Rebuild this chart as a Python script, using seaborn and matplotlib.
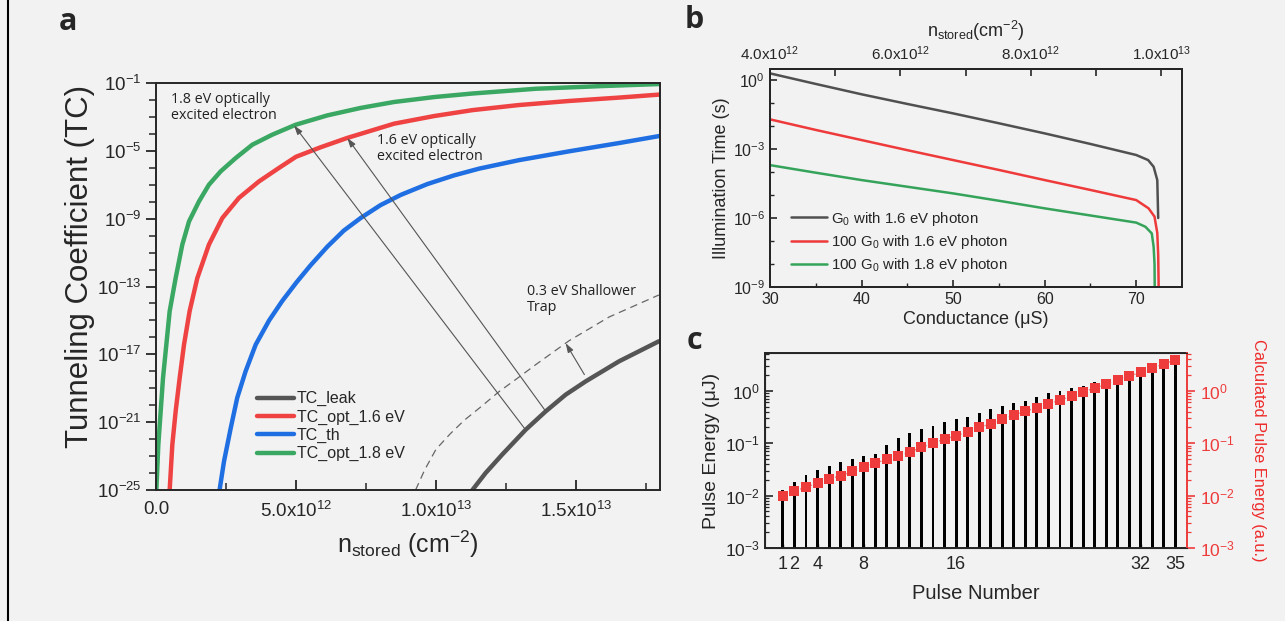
import numpy as np
import matplotlib
matplotlib.use('Agg')
import matplotlib.pyplot as plt
from matplotlib.lines import Line2D
import seaborn as sns

sns.set_style('ticks')
plt.rcParams['font.family'] = ['Liberation Sans', 'DejaVu Sans']
plt.rcParams['mathtext.fontset'] = 'custom'
plt.rcParams['mathtext.rm'] = 'Liberation Sans'
plt.rcParams['mathtext.default'] = 'regular'

BG = '#f2f2f2'
GRAY = '#555555'
RED = '#ef4343'
BLUE = '#1f6fe3'
GREEN = '#3aa862'

# ---- panel a: tunneling coefficient vs n_stored (log10 TC) ----
n_green = [0.012e12, 0.083e12, 0.167e12, 0.25e12, 0.369e12, 0.488e12, 0.702e12, 0.94e12,
           1.18e12, 1.536e12, 1.89e12, 2.31e12, 2.85e12, 3.44e12, 4.15e12, 4.99e12,
           6.12e12, 7.31e12, 8.5e12, 9.93e12, 11.3e12, 13.56e12, 15.94e12, 18.0e12]
tc_green = [-25, -22.33, -20.36, -18.40, -16.43, -14.46, -12.50, -10.53,
            -9.16, -7.98, -7.0, -6.21, -5.42, -4.64, -4.05, -3.46,
            -2.91, -2.47, -2.12, -1.83, -1.62, -1.34, -1.18, -1.06]

n_red = [0.488e12, 0.583e12, 0.702e12, 0.845e12, 1.0e12, 1.2e12, 1.476e12, 1.89e12,
         2.37e12, 2.96e12, 3.68e12, 4.39e12, 5.0e12, 5.88e12, 6.83e12, 8.5e12,
         9.93e12, 11.3e12, 12.96e12, 14.75e12, 16.54e12, 18.0e12]
tc_red = [-25, -22.33, -20.36, -18.40, -16.43, -14.46, -12.50, -10.53,
          -8.96, -7.78, -6.80, -6.01, -5.35, -4.79, -4.24, -3.4,
          -2.95, -2.6, -2.3, -2.06, -1.86, -1.68]

n_blue = [2.27e12, 2.43e12, 2.67e12, 2.90e12, 3.20e12, 3.56e12, 4.04e12, 4.51e12,
          5.02e12, 5.52e12, 6.12e12, 6.71e12, 7.31e12, 8.02e12, 8.74e12, 9.69e12,
          10.64e12, 11.54e12, 12.96e12, 14.75e12, 16.54e12, 18.0e12]
tc_blue = [-25, -23.3, -21.34, -19.57, -18.0, -16.43, -15.0, -13.85,
           -12.75, -11.75, -10.65, -9.7, -8.96, -8.2, -7.6, -6.96,
           -6.45, -6.05, -5.55, -5.03, -4.54, -4.12]

n_leak = [11.3e12, 11.77e12, 12.37e12, 13.2e12, 13.92e12, 14.63e12, 15.35e12, 16.54e12, 17.96e12]
tc_leak = [-25, -24.0, -22.9, -21.45, -20.36, -19.38, -18.59, -17.41, -16.23]

n_shallow = [9.27e12, 9.6e12, 10.0e12, 10.5e12, 11.0e12, 11.6e12, 12.25e12, 13.0e12,
             13.56e12, 14.75e12, 16.18e12, 17.96e12]
tc_shallow = [-25, -23.8, -22.6, -21.7, -20.9, -20.1, -19.2, -18.3,
              -17.61, -16.2, -14.8, -13.5]

a_xticks = [0, 5e12, 1e13, 1.5e13]
a_xticklabels = ['0.0', r'5.0x10$^{12}$', r'1.0x10$^{13}$', r'1.5x10$^{13}$']
a_yexp = [-1, -5, -9, -13, -17, -21, -25]

# ---- panel b: illumination time vs conductance (log10 s) ----
g_gray = [30, 35, 40, 45, 50, 55, 60, 65, 70, 71.3, 71.9, 72.3, 72.4]
t_gray = [0.29, -0.17, -0.62, -1.04, -1.45, -1.88, -2.32, -2.78, -3.26, -3.48, -3.77, -4.35, -6.0]
g_red = [30, 35, 40, 45, 50, 55, 60, 65, 70, 71.35, 72.0, 72.3, 72.4, 72.45]
t_red = [-1.71, -2.17, -2.61, -3.05, -3.48, -3.91, -4.35, -4.78, -5.22, -5.58, -5.94, -6.65, -7.6, -9.0]
g_green = [30, 35, 40, 45, 50, 55, 60, 65, 70, 71.0, 71.7, 71.9, 72.0, 72.02]
t_green = [-3.70, -4.03, -4.35, -4.64, -4.93, -5.25, -5.58, -5.89, -6.20, -6.38, -6.67, -7.25, -8.0, -9.0]
b_top_ticks = [4e12, 6e12, 8e12, 1e13]
b_top_labels = [r'4.0x10$^{12}$', r'6.0x10$^{12}$', r'8.0x10$^{12}$', r'1.0x10$^{13}$']

# ---- panel c: pulse energy (log10) ----
pulse_num = list(range(1, 36))
pulse_energy = [-1.90, -1.74, -1.60, -1.51, -1.43, -1.36, -1.30, -1.24, -1.20, -1.03,
                -0.90, -0.81, -0.73, -0.67, -0.59, -0.54, -0.50, -0.43, -0.35, -0.29,
                -0.24, -0.19, -0.12, -0.05, 0.0, 0.05, 0.10, 0.17, 0.23, 0.28,
                0.33, 0.40, 0.46, 0.54, 0.60]
calc_energy = [-2.0, -1.915, -1.84, -1.76, -1.69, -1.62, -1.54, -1.46, -1.38, -1.31,
               -1.24, -1.17, -1.08, -1.00, -0.92, -0.86, -0.78, -0.70, -0.63, -0.54,
               -0.47, -0.39, -0.32, -0.25, -0.18, -0.10, -0.02, 0.05, 0.13, 0.20,
               0.28, 0.35, 0.43, 0.51, 0.59]
c_xticks = [1, 2, 4, 8, 16, 32, 35]


def pw(v):
    return np.power(10.0, np.array(v, dtype=float))


def sci(v, pos=None):
    return r'$10^{%d}$' % int(round(np.log10(v)))


fig = plt.figure(figsize=(12.85, 6.21), dpi=100, facecolor=BG)
ax_a = fig.add_axes([156 / 1285, 1 - 490 / 621, 504 / 1285, 407 / 621])
ax_b = fig.add_axes([770 / 1285, 1 - 287 / 621, 412 / 1285, 218 / 621])
ax_c = fig.add_axes([765 / 1285, 1 - 548 / 621, 422 / 1285, 195 / 621])
for ax in (ax_a, ax_b, ax_c):
    ax.set_facecolor(BG)
    for s in ax.spines.values():
        s.set_linewidth(1.4)

# left frame line
fig.add_artist(Line2D([8 / 1285, 8 / 1285], [0, 1], color='black', lw=1.5,
                      transform=fig.transFigure))

# ================= panel a =================
ax_a.set_yscale('log')
sns.lineplot(x=n_shallow, y=pw(tc_shallow), ax=ax_a, color='#666666', lw=0.9,
             linestyle=(0, (6, 4)), estimator=None, sort=False)
sns.lineplot(x=n_leak, y=pw(tc_leak), ax=ax_a, color=GRAY, lw=3.2, label='TC_leak',
             estimator=None, sort=False)
sns.lineplot(x=n_red, y=pw(tc_red), ax=ax_a, color=RED, lw=3.2, label='TC_opt_1.6 eV',
             estimator=None, sort=False)
sns.lineplot(x=n_blue, y=pw(tc_blue), ax=ax_a, color=BLUE, lw=3.2, label='TC_th',
             estimator=None, sort=False)
sns.lineplot(x=n_green, y=pw(tc_green), ax=ax_a, color=GREEN, lw=3.2, label='TC_opt_1.8 eV',
             estimator=None, sort=False)
for ln in ax_a.get_lines():
    ln.set_solid_joinstyle('round')
ax_a.set_xlim(0, 1.8e13)
ax_a.set_ylim(1e-25, 1e-1)
ax_a.set_xticks(a_xticks)
ax_a.set_xticklabels(a_xticklabels)
ax_a.set_xticks([2.5e12, 7.5e12, 12.5e12, 17.5e12], minor=True)
ax_a.set_yticks([10.0 ** e for e in a_yexp])
ax_a.set_yticklabels([r'$10^{%d}$' % e for e in a_yexp])
ax_a.set_yticks([10.0 ** e for e in range(-25, 0) if e not in a_yexp], minor=True)
ax_a.set_yticklabels([], minor=True)
ax_a.tick_params(axis='y', which='major', direction='out', length=7, width=1.3, labelsize=13.5)
ax_a.tick_params(axis='y', which='minor', direction='out', length=5, width=1.1)
ax_a.tick_params(axis='x', which='major', direction='in', length=7, width=1.3, labelsize=13.5, pad=8)
ax_a.tick_params(axis='x', which='minor', direction='in', length=5, width=1.1)
ax_a.set_ylabel('Tunneling Coefficient (TC)', fontsize=22.5)
ax_a.yaxis.set_label_coords(-0.122, 0.55)
ax_a.set_xlabel(r'n$_{stored}$ (cm$^{-2}$)', fontsize=18, labelpad=5)
ax_a.legend(loc='upper left', bbox_to_anchor=(0.2, 0.243), frameon=False, fontsize=11.5,
            handlelength=2.3, handletextpad=0.2, labelspacing=0.2, borderpad=0,
            borderaxespad=0)


def on_curve(n, xs, ys):
    return 10 ** np.interp(n, xs, ys)


arrow_kw = dict(arrowstyle='-|>,head_length=0.55,head_width=0.18', color='#555555',
                lw=0.8, shrinkA=0, shrinkB=0)
ax_a.annotate('', xy=(4.93e12, on_curve(4.93e12, n_green, tc_green)),
              xytext=(13.2e12, on_curve(13.2e12, n_leak, tc_leak)), arrowprops=arrow_kw)
ax_a.annotate('', xy=(6.83e12, on_curve(6.83e12, n_red, tc_red)),
              xytext=(13.92e12, on_curve(13.92e12, n_leak, tc_leak)), arrowprops=arrow_kw)
ax_a.annotate('', xy=(14.63e12, on_curve(14.63e12, n_shallow, tc_shallow)),
              xytext=(15.3e12, on_curve(15.3e12, n_leak, tc_leak) * 10 ** 0.45),
              arrowprops=arrow_kw)

note_kw = dict(family=['Open Sans', 'DejaVu Sans'], fontsize=10.3, color='#222222',
               va='top', ha='left', linespacing=1.05, transform=ax_a.transAxes)
ax_a.text(0.03, 0.978, '1.8 eV optically\nexcited electron', **note_kw)
ax_a.text(0.438, 0.876, '1.6 eV optically\nexcited electron', **note_kw)
ax_a.text(0.7355, 0.505, '0.3 eV Shallower\nTrap', **note_kw)

# ================= panel b =================
ax_b.set_yscale('log')
sns.lineplot(x=g_gray, y=pw(t_gray), ax=ax_b, color='#505050', lw=1.8,
             label=r'G$_0$ with 1.6 eV photon', estimator=None, sort=False)
sns.lineplot(x=g_red, y=pw(t_red), ax=ax_b, color='#ee3a3a', lw=1.8,
             label=r'100 G$_0$ with 1.6 eV photon', estimator=None, sort=False)
sns.lineplot(x=g_green, y=pw(t_green), ax=ax_b, color='#35a35a', lw=1.8,
             label=r'100 G$_0$ with 1.8 eV photon', estimator=None, sort=False)
ax_b.set_xlim(30, 75)
ax_b.set_ylim(1e-9, 10 ** 0.48)
ax_b.set_xticks([30, 40, 50, 60, 70])
ax_b.set_xticks([35, 45, 55, 65], minor=True)
ax_b.set_yticks([1e0, 1e-3, 1e-6, 1e-9])
ax_b.set_yticklabels([sci(v) for v in [1e0, 1e-3, 1e-6, 1e-9]])
ax_b.set_yticks([1e-1, 1e-2, 1e-4, 1e-5, 1e-7, 1e-8], minor=True)
ax_b.set_yticklabels([], minor=True)
ax_b.tick_params(which='major', direction='in', length=5, width=1.2, labelsize=11.5,
                 top=False, right=False)
ax_b.tick_params(which='minor', direction='in', length=3, width=1.0, top=False, right=False)
ax_b.set_xlabel('Conductance (μS)', fontsize=13, labelpad=3)
ax_b.set_ylabel('Illumination Time (s)', fontsize=13, labelpad=2)
ax_b.legend(loc='upper left', bbox_to_anchor=(0.052, 0.355), frameon=False, fontsize=10.8,
            handlelength=2.4, handletextpad=0.25, labelspacing=0.35, borderpad=0,
            borderaxespad=0)

ax_bt = ax_b.twiny()
ax_bt.set_xlim(4e12, 10.32e12)
ax_bt.set_xticks(b_top_ticks)
ax_bt.set_xticklabels(b_top_labels)
ax_bt.set_xticks([5e12, 7e12, 9e12], minor=True)
ax_bt.tick_params(which='major', direction='in', length=5, width=1.2, labelsize=11, pad=4)
ax_bt.tick_params(which='minor', direction='in', length=5, width=1.2)
ax_bt.set_xlabel(r'n$_{stored}$(cm$^{-2}$)', fontsize=13, labelpad=6)
for s in ax_bt.spines.values():
    s.set_linewidth(1.4)

# ================= panel c =================
sns.barplot(x=pulse_num, y=pw(pulse_energy), ax=ax_c, native_scale=True, width=0.25,
            color='black', saturation=1, linewidth=0)
ax_c.set_yscale('log')
ax_c.set_ylim(1e-3, 10 ** 0.72)
ax_c.set_xlim(-0.55, 36)
ax_c.set_xticks(c_xticks)
ax_c.set_xticklabels([str(v) for v in c_xticks])
ax_c.set_yticks([1e-3, 1e-2, 1e-1, 1e0])
ax_c.set_yticklabels([sci(v) for v in [1e-3, 1e-2, 1e-1, 1e0]])
ax_c.tick_params(axis='y', which='major', direction='in', length=6, width=1.2, labelsize=12.5)
ax_c.tick_params(axis='y', which='minor', direction='in', length=3, width=0.9)
ax_c.tick_params(axis='x', which='major', direction='in', length=3, width=1.0, labelsize=13, pad=6)
ax_c.spines['right'].set_visible(False)
ax_c.set_xlabel('Pulse Number', fontsize=14.5, labelpad=8)
ax_c.set_ylabel('Pulse Energy (μJ)', fontsize=14, labelpad=4)

ax_c2 = ax_c.twinx()
ax_c2.set_yscale('log')
sns.lineplot(x=pulse_num, y=pw(calc_energy), ax=ax_c2, color='#f07878', lw=1.0,
             linestyle=':', estimator=None, sort=False)
sns.scatterplot(x=pulse_num, y=pw(calc_energy), ax=ax_c2, color='#ee3b3b', marker='s',
                s=42, linewidth=0, zorder=5)
ax_c2.set_ylim(1e-3, 10 ** 0.72)
ax_c2.set_yticks([1e-3, 1e-2, 1e-1, 1e0])
ax_c2.set_yticklabels([sci(v) for v in [1e-3, 1e-2, 1e-1, 1e0]])
ax_c2.spines['right'].set_color('#ee3b3b')
ax_c2.spines['right'].set_linewidth(1.4)
ax_c2.tick_params(axis='y', which='major', direction='out', length=6, width=1.2,
                  colors='#ee3b3b', labelsize=12.5)
ax_c2.tick_params(axis='y', which='minor', direction='out', length=3, width=0.9,
                  colors='#ee3b3b')
ax_c2.set_ylabel('Calculated Pulse Energy (a.u.)', fontsize=11.8, color='#ee2b2b',
                 rotation=270, labelpad=22)

# panel letters
letter_kw = dict(family=['Open Sans', 'DejaVu Sans'], fontsize=22, fontweight='bold',
                 ha='center', va='center')
fig.text(68 / 1285, 1 - 22 / 621, 'a', **letter_kw)
fig.text(694 / 1285, 1 - 20 / 621, 'b', **letter_kw)
fig.text(694 / 1285, 1 - 341 / 621, 'c', **letter_kw)

fig.savefig('out.png', dpi=100, facecolor=BG)
